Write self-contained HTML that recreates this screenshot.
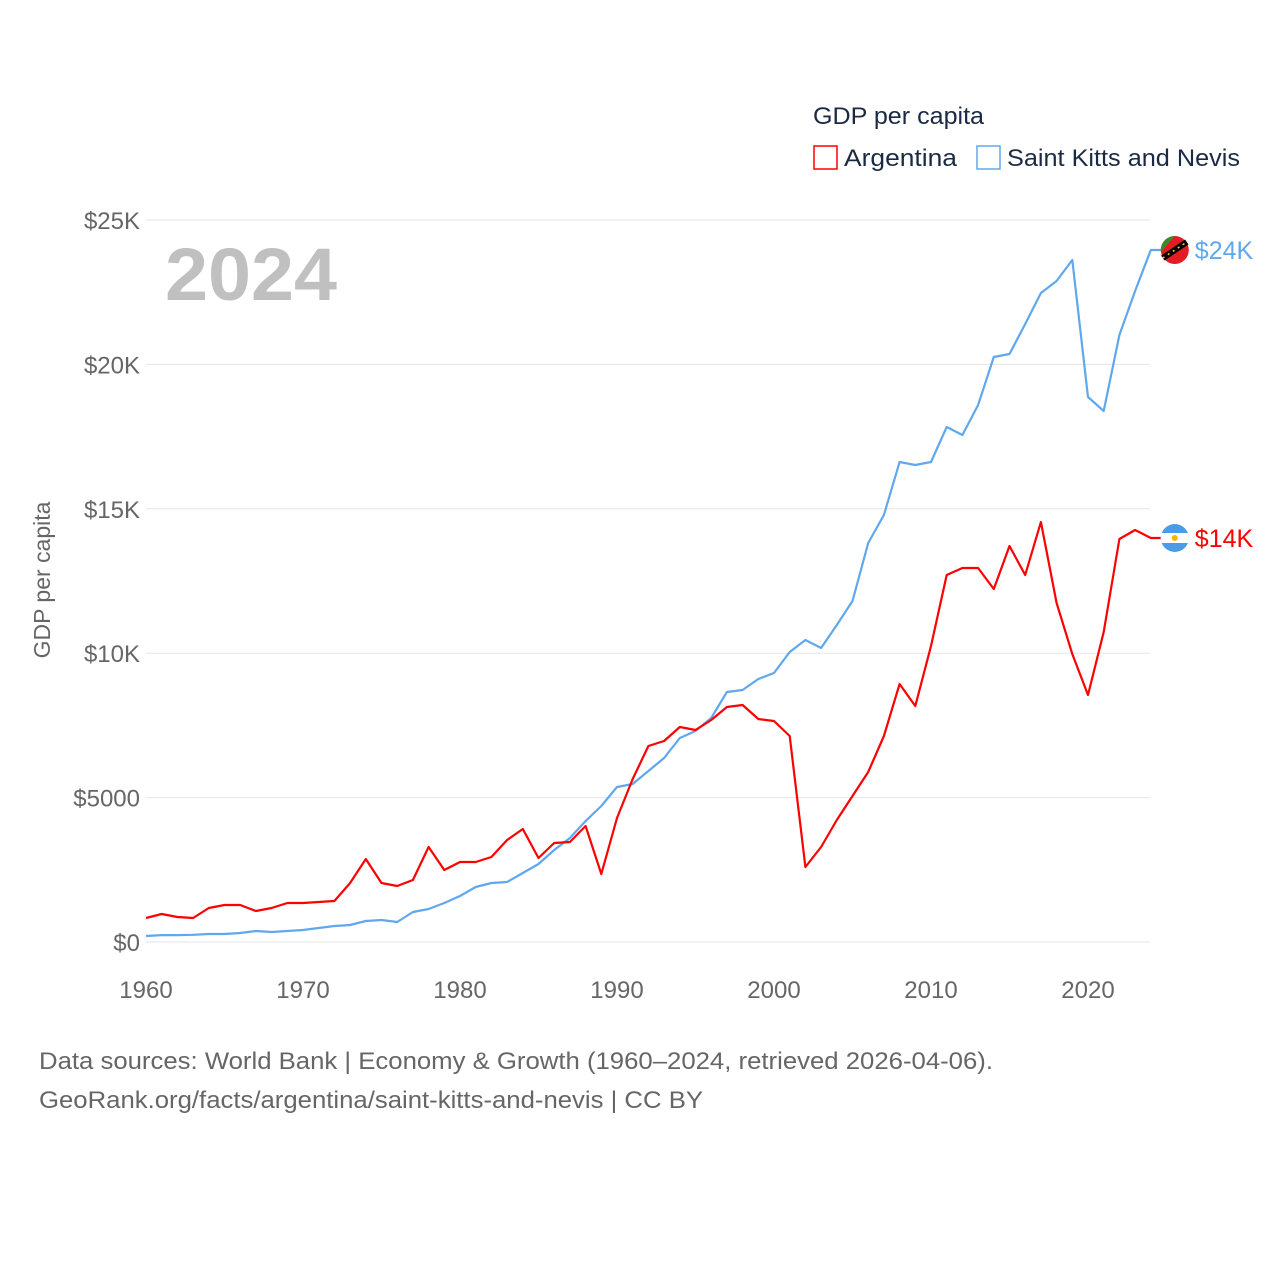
<!DOCTYPE html>
<html><head><meta charset="utf-8"><style>
body{margin:0;background:#fff;font-family:"Liberation Sans",sans-serif;}
svg text{font-family:"Liberation Sans",sans-serif;}
</style></head><body>
<svg id="chart" width="1280" height="1280" xmlns="http://www.w3.org/2000/svg">
<rect width="1280" height="1280" fill="#fff"/>
<g id="grid"></g>
<g id="yticks"></g>
<g id="xticks"></g>
<text x="165" y="300" font-size="74" font-weight="bold" fill="#c0c0c0" textLength="172" lengthAdjust="spacingAndGlyphs">2024</text>
<text transform="translate(50,580) rotate(-90)" text-anchor="middle" font-size="23" fill="#666">GDP per capita</text>
<text x="813" y="124" font-size="24" fill="#1a2a44" textLength="171" lengthAdjust="spacingAndGlyphs">GDP per capita</text>
<g><rect x="814" y="146" width="23" height="23" fill="none" stroke="#f00" stroke-width="1.5"/><text x="844" y="166" font-size="24" fill="#1a2a44" textLength="113" lengthAdjust="spacingAndGlyphs">Argentina</text></g>
<g><rect x="977" y="146" width="23" height="23" fill="none" stroke="#5fa8ee" stroke-width="1.5"/><text x="1007" y="166" font-size="24" fill="#1a2a44" textLength="233" lengthAdjust="spacingAndGlyphs">Saint Kitts and Nevis</text></g>
<g id="series"></g>
<text x="39" y="1069" font-size="24" fill="#666" textLength="954" lengthAdjust="spacingAndGlyphs">Data sources: World Bank | Economy &amp; Growth (1960–2024, retrieved 2026-04-06).</text>
<text x="39" y="1108" font-size="24" fill="#666" textLength="664" lengthAdjust="spacingAndGlyphs">GeoRank.org/facts/argentina/saint-kitts-and-nevis | CC BY</text>
</svg>
<script>
const years=[];for(let y=1960;y<=2024;y++)years.push(y);
const argentina=[831,970,866,831,1177,1281,1281,1073,1177,1350,1350,1385,1420,2043,2874,2043,1939,2147,3290,2493,2770,2770,2943,3532,3913,2909,3428,3463,4017,2355,4294,5644,6787,6960,7445,7341,7687,8137,8206,7721,7652,7133,2597,3290,4224,5055,5886,7133,8934,8172,10249,12708,12950,12950,12223,13712,12708,14543,11738,9972,8553,10734,13954,14266,13989];
const skn=[208,240,240,250,277,277,311,381,346,381,415,485,554,589,727,762,692,1039,1143,1350,1592,1904,2043,2078,2389,2701,3186,3601,4190,4709,5367,5471,5921,6371,7064,7306,7756,8657,8726,9107,9315,10042,10457,10180,10976,11807,13816,14785,16620,16517,16620,17832,17555,18594,20256,20360,21399,22472,22888,23615,18871,18386,21018,22541,23961];
const yTickVals=[0,5000,10000,15000,20000,25000];
const yTickLabels=["$0","$5000","$10K","$15K","$20K","$25K"];
const xTickVals=[1960,1970,1980,1990,2000,2010,2020];
const NS="http://www.w3.org/2000/svg";
const X=v=>146+(v-1960)*942/60;
const Y=v=>942-v*722/25000;
function mk(tag,attrs,parent,txt){const e=document.createElementNS(NS,tag);for(const k in attrs)e.setAttribute(k,attrs[k]);if(txt!=null)e.textContent=txt;parent.appendChild(e);return e;}
const grid=document.getElementById('grid'),yt=document.getElementById('yticks'),xt=document.getElementById('xticks'),ser=document.getElementById('series');
yTickVals.forEach((v,i)=>{
 const l=mk('line',{x1:146,x2:1150,y1:Y(v),y2:Y(v),stroke:'#e6e6e6','stroke-width':1},grid);
 
 
 const t=mk('text',{x:140,y:Y(v)+9,'text-anchor':'end','font-size':24,fill:'#666'},yt,yTickLabels[i]);
 
 
});
xTickVals.forEach(v=>{
 const t=mk('text',{x:X(v),y:998,'text-anchor':'middle','font-size':24,fill:'#666'},xt,String(v));
 
 
});
function line(data,color,name){
 const last=data[data.length-1];
 const d=data.map((v,i)=>(i?'L':'M')+X(years[i]).toFixed(1)+','+Y(v).toFixed(1)).join('')+'L'+(X(years[years.length-1])+10).toFixed(1)+','+Y(last).toFixed(1);
 const p=mk('path',{d:d,fill:'none',stroke:color,'stroke-width':2.2,'stroke-linejoin':'round'},ser);
 
 
}
line(skn,'#5fa8ee','line-saint-kitts');
line(argentina,'#f00','line-argentina');
function endLabel(data,color,name,flag){
 const v=data[data.length-1],x=X(years[years.length-1]),y=Y(v);
 const g=mk('g',{},ser);
 
 
 if(flag==='ar'){
  mk('circle',{cx:x+24,cy:y,r:14,fill:'#4a9be8'},g);
  mk('rect',{x:x+10,y:y-5,width:28,height:10,fill:'#fff'},g);
  mk('circle',{cx:x+24,cy:y,r:3,fill:'#f6b40e'},g);
 }else{
  mk('circle',{cx:x+24,cy:y,r:14,fill:'#e31b23'},g);
  mk('path',{d:`M${x+10},${y} A14,14 0 0 1 ${x+24},${y-14} L${x+10},${y+2}Z`,fill:'#3c8a2e'},g);
  mk('line',{x1:x+12,y1:y+8,x2:x+36,y2:y-8,stroke:'#000','stroke-width':6},g);
  mk('line',{x1:x+12,y1:y+8,x2:x+36,y2:y-8,stroke:'#fcd116','stroke-width':1.5,'stroke-dasharray':'2 4'},g);
 }
 mk('text',{x:x+44,y:y+9,'font-size':25,fill:color},g,'$'+Math.round(v/1000)+'K');
}
endLabel(skn,'#5fa8ee','end-label-saint-kitts','kn');
endLabel(argentina,'#f00','end-label-argentina','ar');
</script>
</body></html>
